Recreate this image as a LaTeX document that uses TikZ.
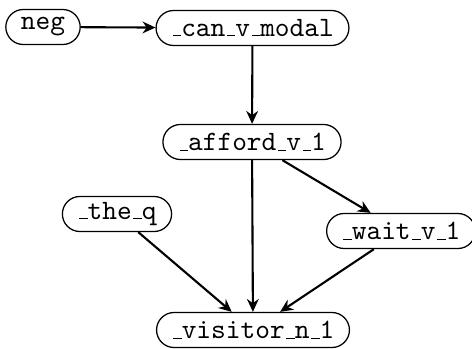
\documentclass[tikz,border=0pt]{standalone}
\usetikzlibrary{arrows.meta}
% low rule used as the underscore in predicate names
\newcommand\us{\leavevmode\kern.06em\vbox{\hrule width.3em}}
\begin{document}
\begin{tikzpicture}[x=0.357pt,y=-0.357pt,
  pred/.style={draw,line width=0.45pt,rectangle,rounded corners=6.25pt,
    minimum height=12.5pt,inner xsep=5.4pt,inner ysep=0pt,
    font=\fontsize{10}{12}\selectfont\ttfamily},
  link/.style={line width=0.75pt,-{Stealth[length=4.6pt,width=4.2pt,inset=1.5pt]}}]
\useasboundingbox (0,0) rectangle (472,348);
\clip (0,0) rectangle (472,348);
\node[pred] (neg) at (43,27) {neg};
\node[pred] (can) at (252.5,28) {\us can\us v\us modal};
\node[pred] (afford) at (252,142) {\us afford\us v\us 1};
\node[pred] (the) at (117,214) {\us the\us q};
\node[pred] (wait) at (401,231) {\us wait\us v\us 1};
\node[pred] (visitor) at (253,330) {\us visitor\us n\us 1};
\draw[link] (neg) -- (can);
\draw[link] (can) -- (afford);
\draw[link] (afford) -- (visitor);
\draw[link] (afford) -- (wait);
\draw[link] (the) -- (visitor);
\draw[link] (wait) -- (visitor);
\end{tikzpicture}
\end{document}
